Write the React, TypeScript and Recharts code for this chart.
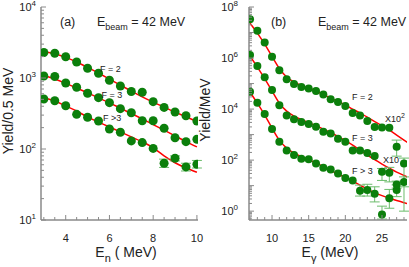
import React from "react";
import { ComposedChart, Line, Scatter, XAxis, YAxis, ErrorBar } from "recharts";

const H = 267;
const AXIS = "#8a8a8a";
const TEXT = "#222";
const DOT = "#0b7f0b";
const BAR = "#6cbc6c";
const FIT = "#ff0000";
const FONT = '"Liberation Sans", Arial, sans-serif';

// (a) neutron yield per 0.5 MeV
const enX = [3, 3.5, 4, 4.5, 5, 5.5, 6, 6.5, 7, 7.5, 8, 8.5, 9, 9.5, 10];
const aF2 = [2290, 2230, 1995, 1680, 1370, 1165, 929, 771, 645, 631, 464, 385, 332, 294, 248];
const aF3 = [1067, 1050, 851, 742, 609, 528, 449, 370, 324, 250, 250, 196, 144, 127, 137];
const aF4 = [506, 479, 407, 308, 280, 248, 191, 172, 130, 123, 102, 63, 74, 56, 61];
const aF4Err = [null, null, null, null, null, null, null, null, null, null, null, [8, 9], [6, 6], [7, 7], [7, 8]];
const aFit2 = [2340, 2190, 1950, 1680, 1410, 1175, 966, 794, 653, 543, 457, 389, 331, 285, 243];
const aFit3 = [1096, 966, 841, 724, 617, 525, 447, 376, 316, 266, 221, 184, 153, 127, 107];
const aFit4 = [522, 474, 404, 343, 282, 240, 204, 174, 148, 126, 104, 80, 64, 54, 47];

// (b) gamma yield per MeV (F=2 scaled x100, F=3 scaled x10)
const egX2 = [7, 8, 9, 10, 11, 12, 13, 14, 15, 16, 17, 18, 19, 20, 21, 22, 23, 24, 25, 26];
const egX = [7, 8, 9, 10, 11, 12, 13, 14, 15, 16, 17, 18, 19, 20, 21, 22, 23, 24, 25, 26, 27, 28];
const bF2 = [3.3e7, 1.18e7, 4.1e6, 1.12e6, 3.3e5, 1.46e5, 9.6e4, 7.3e4, 6.4e4, 5.1e4, 3.7e4, 2.4e4, 1.9e4, 1.31e4, 7000, 5600, 3400, 1970, 1900, 1850];
const bF3 = [1.31e6, 4.85e5, 1.75e5, 5.6e4, 1.4e4, 5660, 3980, 3100, 2630, 2020, 1290, 1110, 684, 530, 236, 236, 188, 146, 35, 32, 333, 74];
const bF3Err = [null, null, null, null, null, null, null, null, null, null, null, null, null, null, null, null, null, null, [19, 12], [18, 20], [190, 275], [73, 46]];
const bF4 = [4.8e4, 1.77e4, 6370, 1640, 523, 240, 157, 112, 107, 74, 50, 43, 30, 20, 16, 6.3, 6.7, 4.8, 0.74, 3.2, 6.7, 14];
const bF4Err = [null, null, null, null, null, null, null, null, null, null, null, null, null, null, null, [2.4, 4.2], [2.8, 4.6], [2.5, 4.2], [0.25, 0.83], [1.9, 3.9], [3, 4], [5, 8]];
const bF4xX = [27];
const bF4x = [11];
const bF4xErr = [[3, 4]];
const fitX = [7, 8, 9, 10, 11, 12, 13, 14, 15, 16, 17, 18, 19, 20, 21, 22, 23, 24, 25, 26, 27, 28, 28.5];
const bFit2 = [2.3e7, 9.5e6, 3.5e6, 1.15e6, 3.9e5, 1.8e5, 1.15e5, 8.3e4, 6.6e4, 5.1e4, 3.7e4, 2.7e4, 1.97e4, 1.44e4, 1.0e4, 7000, 4850, 3240, 2250, 1500, 955, 608, 485];
const bFit3 = [1.2e6, 4.4e5, 1.57e5, 5.1e4, 1.7e4, 8350, 5300, 3870, 2950, 2250, 1640, 1200, 835, 580, 387, 246, 157, 105, 70, 48, 34, 25, 21.5];
const bFit4 = [4.6e4, 1.7e4, 5800, 1800, 608, 295, 188, 137, 105, 76, 56, 40, 28, 21.5, 15, 10.5, 7.3, 5.3, 4.05, 3.2, 2.6, 2.15, 1.97];

// axis ticks
const aXTicks = [3, 3.5, 4, 4.5, 5, 5.5, 6, 6.5, 7, 7.5, 8, 8.5, 9, 9.5, 10];
const aXLabels = [4, 6, 8, 10];
const aYLabels = [10, 100, 1000, 10000];
const bXTicks = [7, 8, 9, 10, 11, 12, 13, 14, 15, 16, 17, 18, 19, 20, 21, 22, 23, 24, 25, 26, 27, 28];
const bXLabels = [10, 15, 20, 25];
const bYLabels = [1, 100, 1e4, 1e6, 1e8];

const logTicks = (lo: number, hi: number) => {
  const out: number[] = [];
  for (let e = Math.floor(Math.log10(lo)); e <= Math.ceil(Math.log10(hi)); e++) {
    for (let m = 1; m < 10; m++) {
      const v = m * Math.pow(10, e);
      if (v >= lo * 0.999 && v <= hi * 1.001) out.push(v);
    }
  }
  return out;
};

const toPts = (xs: number[], ys: number[], errs?: (number[] | null)[]) =>
  xs.map((x, i) => ({ x, y: ys[i], err: errs ? errs[i] : null }));

const isDecade = (v: number) => Math.abs(Math.log10(v) - Math.round(Math.log10(v))) < 1e-6;

const xTick = (labels: number[], side: "bottom" | "top") => (p: any) => {
  const v = p.payload.value;
  const major = labels.includes(v);
  const len = major ? 5 : 3;
  return (
    <g>
      <line x1={p.x} x2={p.x} y1={p.y} y2={side === "bottom" ? p.y - len : p.y + len} stroke={AXIS} />
      {side === "bottom" && major && (
        <text x={p.x} y={p.y + 21.5} textAnchor="middle" fontSize={11} fontFamily={FONT} fill={TEXT}>
          {v}
        </text>
      )}
    </g>
  );
};

const yTick = (labels: number[], side: "left" | "right", gap: number) => (p: any) => {
  const v = p.payload.value;
  const dec = isDecade(v);
  const len = dec ? 5 : 3;
  const labeled = dec && labels.some((l) => Math.abs(l - v) / l < 1e-6);
  return (
    <g>
      <line x1={p.x} x2={side === "left" ? p.x + len : p.x - len} y1={p.y} y2={p.y} stroke={AXIS} />
      {side === "left" && labeled && (
        <text x={p.x - gap} y={p.y + 4} textAnchor="end" fontSize={11} fontFamily={FONT} fill={TEXT}>
          10
          <tspan dy={-5} fontSize={8}>
            {Math.round(Math.log10(v))}
          </tspan>
        </text>
      )}
    </g>
  );
};

type Series = { pts: { x: number; y: number; err: number[] | null }[]; fit?: { x: number; y: number }[] };

interface PanelProps {
  w: number;
  right: number;
  yw: number;
  gap: number;
  r: number;
  xDomain: number[];
  xTicks: number[];
  xLabels: number[];
  yDomain: number[];
  yLabels: number[];
  series: Series[];
}

const Panel = (props: PanelProps) => {
  const { w, right, yw, gap, r, xDomain, xTicks, xLabels, yDomain, yLabels, series } = props;
  const yTicks = logTicks(yDomain[0], yDomain[1]);
  const axisLine = { stroke: AXIS, strokeWidth: 1.5 };
  return (
    <ComposedChart width={w} height={H} margin={{ top: 7, right, bottom: 0, left: 0 }}>
      <XAxis type="number" dataKey="x" domain={xDomain} allowDataOverflow ticks={xTicks} interval={0}
        tickSize={0} tickMargin={0} tickLine={false} axisLine={axisLine} height={47} tick={xTick(xLabels, "bottom")} />
      <XAxis xAxisId="top" orientation="top" type="number" dataKey="x" domain={xDomain} allowDataOverflow ticks={xTicks}
        interval={0} tickSize={0} tickMargin={0} tickLine={false} axisLine={axisLine} height={0} tick={xTick(xLabels, "top")} />
      <YAxis type="number" dataKey="y" scale="log" domain={yDomain} allowDataOverflow ticks={yTicks} interval={0}
        tickSize={0} tickMargin={0} tickLine={false} axisLine={axisLine} width={yw} tick={yTick(yLabels, "left", gap)} />
      <YAxis yAxisId="right" orientation="right" type="number" dataKey="y" scale="log" domain={yDomain} allowDataOverflow
        ticks={yTicks} interval={0} tickSize={0} tickMargin={0} tickLine={false} axisLine={axisLine} width={0}
        tick={yTick(yLabels, "right", gap)} />
      {series.map((s, i) =>
        s.fit ? (
          <Line key={"f" + i} data={s.fit} dataKey="y" type="monotone" stroke={FIT} strokeWidth={1.5}
            dot={false} activeDot={false} isAnimationActive={false} />
        ) : null
      )}
      {series.map((s, i) => (
        <Scatter key={"s" + i} data={s.pts} dataKey="y" isAnimationActive={false} fill={DOT}
          shape={(p: any) => <circle cx={p.cx} cy={p.cy} r={r} fill={DOT} />}>
          <ErrorBar dataKey="err" direction="y" width={5} stroke={BAR} strokeWidth={1} />
        </Scatter>
      ))}
    </ComposedChart>
  );
};

const Note = ({ x, y, size = 9, children }: { x: number; y: number; size?: number; children: React.ReactNode }) => (
  <div style={{ position: "absolute", left: x, top: y - size / 2, fontSize: size, lineHeight: 1, whiteSpace: "nowrap", color: TEXT }}>
    {children}
  </div>
);

const Centered = ({ x, y, size, rotate, children }: { x: number; y: number; size: number; rotate?: boolean; children: React.ReactNode }) => (
  <div style={{ position: "absolute", left: x, top: y, fontSize: size, lineHeight: 1, whiteSpace: "nowrap", color: TEXT,
    transform: `translate(-50%, -50%)${rotate ? " rotate(-90deg)" : ""}` }}>
    {children}
  </div>
);

const Sub = ({ size, children }: { size: number; children: React.ReactNode }) => (
  <span style={{ fontSize: size, position: "relative", top: size * 0.45 }}>{children}</span>
);
const Sup = ({ size, children }: { size: number; children: React.ReactNode }) => (
  <span style={{ fontSize: size, position: "relative", top: -size * 0.55 }}>{children}</span>
);

const Beam = () => (
  <>
    E<Sub size={9}>beam</Sub> = 42 MeV
  </>
);

export default function App() {
  const aSeries: Series[] = [
    { pts: toPts(enX, aF2), fit: toPts(enX, aFit2) },
    { pts: toPts(enX, aF3), fit: toPts(enX, aFit3) },
    { pts: toPts(enX, aF4, aF4Err), fit: toPts(enX, aFit4) },
  ];
  const bSeries: Series[] = [
    { pts: toPts(egX2, bF2), fit: toPts(fitX, bFit2) },
    { pts: toPts(egX, bF3, bF3Err), fit: toPts(fitX, bFit3) },
    { pts: toPts(egX, bF4, bF4Err), fit: toPts(fitX, bFit4) },
    { pts: toPts(bF4xX, bF4x, bF4xErr) },
  ];
  return (
    <div style={{ position: "absolute", left: 0, top: 0, width: 409, height: H, background: "#fff", fontFamily: FONT, overflow: "hidden" }}>
      <div style={{ position: "absolute", left: 0, top: 0 }}>
        <Panel w={205} right={7} yw={41} gap={5} r={4.5} xDomain={[2.87, 10.05]} xTicks={aXTicks} xLabels={aXLabels}
          yDomain={[10, 10000]} yLabels={aYLabels} series={aSeries} />
      </div>
      <div style={{ position: "absolute", left: 205, top: 0 }}>
        <Panel w={204} right={2} yw={44} gap={11} r={4} xDomain={[6.86, 28.41]} xTicks={bXTicks} xLabels={bXLabels}
          yDomain={[0.45, 1e8]} yLabels={bYLabels} series={bSeries} />
      </div>

      <Note x={60} y={22.5} size={12.5}>(a)</Note>
      <Note x={97} y={22.5} size={12.5}><Beam /></Note>
      <Note x={100} y={69.5} size={9}>F = 2</Note>
      <Note x={101.5} y={95} size={9}>F = 3</Note>
      <Note x={103} y={118} size={9}>F &gt;3</Note>

      <Note x={271} y={22.5} size={12.5}>(b)</Note>
      <Note x={318} y={22.5} size={12.5}><Beam /></Note>
      <Note x={352} y={97.5} size={9}>F = 2</Note>
      <Note x={385} y={119} size={9}>X10<Sup size={7}>2</Sup></Note>
      <Note x={352} y={138.5} size={9}>F = 3</Note>
      <Note x={383} y={160.5} size={9}>X10</Note>
      <Note x={352} y={171.5} size={9}>F &gt; 3</Note>

      <Centered x={8} y={111} size={14} rotate>Yield/0.5 MeV</Centered>
      <Centered x={205} y={110} size={14} rotate>Yield/MeV</Centered>
      <Centered x={126} y={252} size={14}>E<Sub size={11}>n</Sub> ( MeV)</Centered>
      <Centered x={330} y={252} size={14}>E<Sub size={11}>γ</Sub> (MeV)</Centered>
    </div>
  );
}
